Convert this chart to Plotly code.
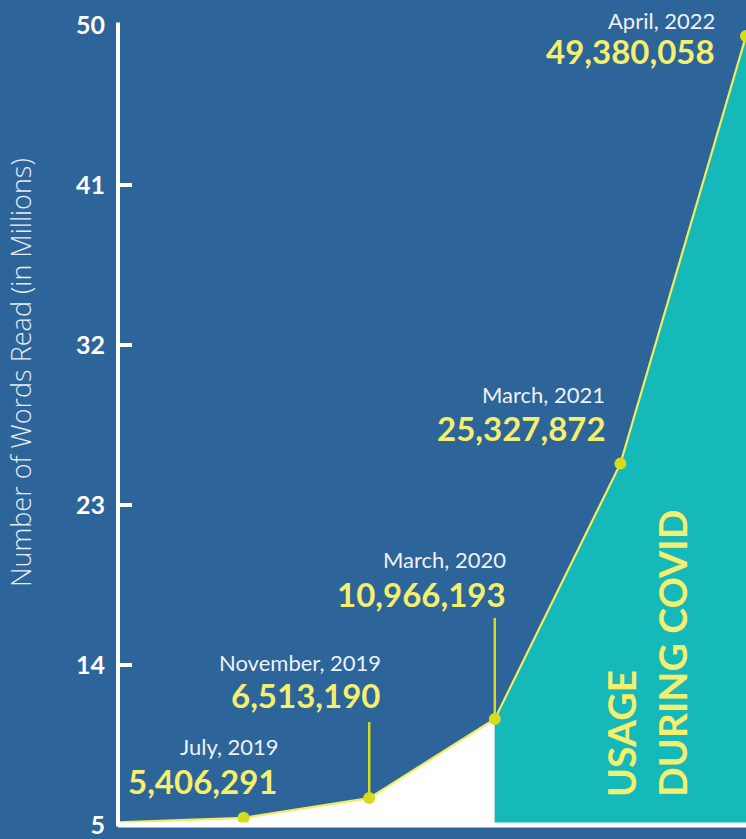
import plotly.graph_objects as go

# ---- data ----
x_idx = [0, 1, 2, 3, 4, 5]
start_value = 5.15  # unlabeled starting point of the line (millions)
dates = ["July, 2019", "November, 2019", "March, 2020", "March, 2021", "April, 2022"]
counts = [5406291, 6513190, 10966193, 25327872, 49380058]
values = [start_value] + [c / 1e6 for c in counts]
y_ticks = [5, 14, 23, 32, 41, 50]
covid_start = 3  # index where covid usage begins

# ---- styling ----
BG = "#2D6499"
TEAL = "#15B9B9"
YELLOW = "#F5EF6E"
LINE = "#F2EC60"
MARK = "#D4DC1C"
FONT = "Lato"

# label offsets in pixels relative to each point: (xshift_date, yshift_date, xshift_val, yshift_val)
label_offsets = [(37, 71, 35, 37), (14, 136, 13, 103), (13, 159, 13, 125), (-13, 69, -12, 36), (-29, 16, -29, -15)]
stems = {2: 76, 3: 101}  # point index -> stem length in px

fig = go.Figure()
fig.add_trace(go.Scatter(x=x_idx[:covid_start + 1], y=values[:covid_start + 1], mode="lines",
                         line=dict(width=0), fill="tozeroy", fillcolor="white", hoverinfo="skip"))
fig.add_trace(go.Scatter(x=x_idx[covid_start:], y=values[covid_start:], mode="lines",
                         line=dict(width=0), fill="tozeroy", fillcolor=TEAL, hoverinfo="skip"))
fig.add_trace(go.Scatter(x=x_idx, y=values, mode="lines", line=dict(color=LINE, width=2.2)))
fig.add_trace(go.Scatter(x=x_idx[1:], y=values[1:], mode="markers",
                         marker=dict(color=MARK, size=12, line=dict(width=0))))

annotations = []
for i, (d, c) in enumerate(zip(dates, counts)):
    xi = x_idx[i + 1]
    yi = values[i + 1]
    xs_d, ys_d, xs_v, ys_v = label_offsets[i]
    annotations.append(dict(x=xi, y=yi, xref="x", yref="y", text=d, showarrow=False,
                            xanchor="right", yanchor="middle", xshift=xs_d, yshift=ys_d,
                            font=dict(family=FONT, size=22, color="#EEF2F7")))
    annotations.append(dict(x=xi, y=yi, xref="x", yref="y", text=f"{c:,}", showarrow=False,
                            xanchor="right", yanchor="middle", xshift=xs_v, yshift=ys_v,
                            font=dict(family=FONT, size=33, color=YELLOW, weight="bold")))

annotations.append(dict(x=0.8425, y=0.214, xref="paper", yref="paper", text="USAGE<br>DURING COVID",
                        showarrow=False, textangle=-90, align="left", xanchor="center", yanchor="middle",
                        font=dict(family=FONT, size=39, color=YELLOW, weight="bold")))
annotations.append(dict(x=-0.156, y=0.565, xref="paper", yref="paper", xanchor="center", yanchor="middle",
                        text="Number of Words Read (in Millions)", showarrow=False, textangle=-90,
                        font=dict(family="Open Sans", size=27, color="#E6ECF3", weight=300)))

shapes = []
for idx, length in stems.items():
    shapes.append(dict(type="line", xref="x", yref="y", x0=x_idx[idx], x1=x_idx[idx],
                       ysizemode="pixel", yanchor=values[idx], y0=0, y1=length,
                       line=dict(color=MARK, width=2.5), layer="below"))
shapes.append(dict(type="line", xref="paper", yref="paper", x0=0, x1=0, y0=-0.002, y1=1.003,
                   line=dict(color="white", width=4), layer="above"))
shapes.append(dict(type="line", xref="paper", yref="paper", x0=0, x1=1, y0=0, y1=0,
                   line=dict(color="white", width=5), layer="above"))

fig.update_layout(
    width=746, height=839,
    margin=dict(l=118, r=0, t=25, b=14),
    paper_bgcolor=BG, plot_bgcolor=BG,
    showlegend=False,
    annotations=annotations,
    shapes=shapes,
    xaxis=dict(range=[0, 5], showgrid=False, zeroline=False, showline=False,
               showticklabels=False, ticks=""),
    yaxis=dict(range=[5, 50], tickvals=y_ticks, showgrid=False, zeroline=False, showline=False,
               ticks="inside", ticklen=14, tickwidth=4, tickcolor="white",
               tickfont=dict(family=FONT, size=25, color="white", weight="bold"),
               ticklabelstandoff=12),
)

fig.write_html("out.html", config={"displayModeBar": False},
               post_script="document.body.style.margin='0';document.body.style.overflow='hidden';")
